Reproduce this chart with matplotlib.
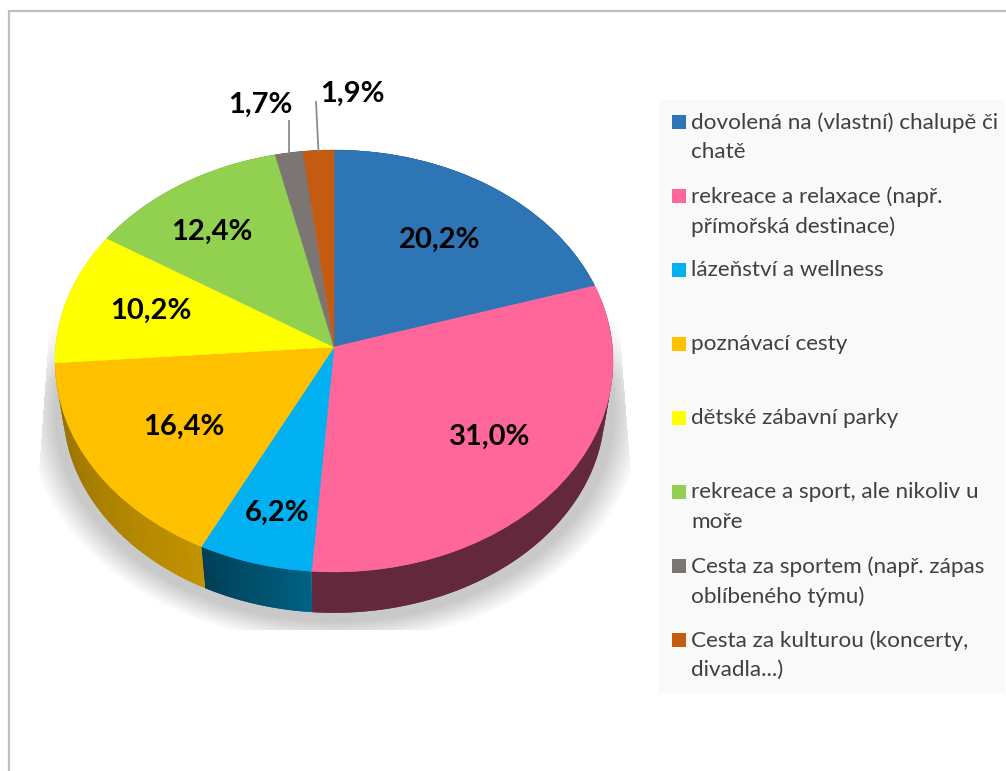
import numpy as np
import matplotlib
matplotlib.use('Agg')
import matplotlib.pyplot as plt
from matplotlib.patches import Rectangle
from matplotlib.transforms import Transform

labels = ['dovolená na (vlastní) chalupě či\nchatě',
          'rekreace a relaxace (např.\npřímořská destinace)',
          'lázeňství a wellness',
          'poznávací cesty',
          'dětské zábavní parky',
          'rekreace a sport, ale nikoliv u\nmoře',
          'Cesta za sportem (např. zápas\noblíbeného týmu)',
          'Cesta za kulturou (koncerty,\ndivadla...)']
values = [20.2, 31.0, 6.2, 16.4, 10.2, 12.4, 1.7, 1.9]
colors = ['#2E75B6', '#FF6699', '#00B0F0', '#FFC000', '#FFFF00', '#92D050', '#7B7674', '#C55A11']

# side wall shading, fraction of the base colour at start and end of each slice
wall_shade = [(0.6, 0.6), (0.39, 0.39), (0.55, 0.36), (0.76, 0.57),
              (0.76, 0.76), (0.7, 0.7), (0.6, 0.6), (0.6, 0.6)]

# Layout, all in pixels of the 1006x771 picture
HUB_X, HUB_Y = 334, 347
PERSP_A, PERSP_B, PERSP_K = 278.4, 210, 0.0663
ELL_Y = 361
WALL_SCALE, WALL_DROP = 0.971, 47

label_pos = [(440, 240), (490, 437), (277, 513), (184, 427),
             (151, 311), (212, 232), (260, 105), (352, 94)]
leader_tops = {6: (289, 121), 7: (316, 102)}

FONT = ['Lato', 'DejaVu Sans']
plt.rcParams['font.family'] = FONT


def project(u, v):
    w = 1 + PERSP_K * v
    return HUB_X + PERSP_A * u / w, HUB_Y - PERSP_B * v / w


class PerspTransform(Transform):
    # the pie is a tilted disc, so the hub sits above the ellipse centre
    input_dims = 2
    output_dims = 2

    def transform_non_affine(self, values):
        xy = np.asarray(values)
        x, y = project(xy[:, 0], xy[:, 1])
        return np.column_stack([x, y])


fig = plt.figure(figsize=(10.06, 7.71), dpi=100)
ax = fig.add_axes([0, 0, 1, 1])

# Pie top
wedges, _, autotexts = ax.pie(values, colors=colors, startangle=90, counterclock=False, radius=1,
                              autopct=lambda p: f'{p:.1f}%'.replace('.', ','))
ax.set_aspect('auto')
ax.axis('off')

persp = PerspTransform()
for w, c in zip(wedges, colors):
    w.set_transform(persp + ax.transData)
    w.set_edgecolor(c)
    w.set_linewidth(0.4)
    w.set_zorder(4)

for t, pos in zip(autotexts, label_pos):
    t.set_position(pos)
    t.set_fontsize(21)
    t.set_fontweight('bold')
    t.set_color('black')
    t.set_ha('center')
    t.set_va('center')
    t.set_zorder(6)

# Side wall, strips overlap the next one so no seams show
edges = np.concatenate([[0], np.cumsum(values)]) / np.sum(values) * 2 * np.pi
for i, c in enumerate(colors):
    base = np.array(matplotlib.colors.to_rgb(c))
    n = max(int((edges[i + 1] - edges[i]) * 60), 2)
    ang = np.linspace(edges[i], edges[i + 1], n + 1)
    shade = np.linspace(wall_shade[i][0], wall_shade[i][1], n)
    x, y = project(np.sin(ang), np.cos(ang))
    lx = HUB_X + (x - HUB_X) * WALL_SCALE
    ly = ELL_Y + (y - ELL_Y) * WALL_SCALE + WALL_DROP
    for j in range(n):
        k = min(j + 3, n + 1)
        ax.fill(np.r_[x[j:k], lx[j:k][::-1]], np.r_[y[j:k], ly[j:k][::-1]],
                color=base * shade[j], lw=0, zorder=3)

# Soft shadow under the pie, cut off at the bottom and sides like the original
yy, xx = np.mgrid[290:630, 30:640]
d = np.sqrt(((xx - HUB_X) / 300) ** 2 + ((yy - 410) / 227) ** 2)
alpha = np.clip((1.03 - d) / 0.1, 0, 1) * np.clip((yy - 310) / 70, 0, 1)
left = 48 - (yy - 340) * 10 / 140
right = 620 + (yy - 340) * 11 / 140
alpha[(xx < left) | (xx > right)] = 0
shadow = np.zeros(alpha.shape + (4,))
shadow[..., :3] = 0.79
shadow[..., 3] = alpha
ax.imshow(shadow, extent=(30, 640, 630, 290), aspect='auto', zorder=2, interpolation='bilinear')
ax.set_xlim(0, 1006)
ax.set_ylim(771, 0)

# Leader lines for the two small slices
for i, top in leader_tops.items():
    mid = (edges[i] + edges[i + 1]) / 2
    px, py = project(np.sin(mid), np.cos(mid))
    ax.plot([px, top[0]], [py, top[1]], color='#8C8C8C', lw=1.3, zorder=5)

# Chart border, only left and top are visible
ax.plot([9, 9, 1006], [771, 11, 11], color='#BFBFBF', lw=1.6, zorder=1, solid_joinstyle='miter')

# Legend box
ax.add_patch(Rectangle((659, 100), 346, 593, fc='#F9F9F9', ec='none', zorder=1))
for i, (lab, c) in enumerate(zip(labels, colors)):
    y0 = 115 + i * 74
    ax.add_patch(Rectangle((672, y0), 14, 14, fc=c, ec='none', zorder=2))
    ax.text(691, y0 - 3, lab, fontsize=16.2, color='#404040', ha='left', va='top',
            linespacing=1.6, zorder=3)

plt.savefig('out.png', dpi=100)
plt.close()
